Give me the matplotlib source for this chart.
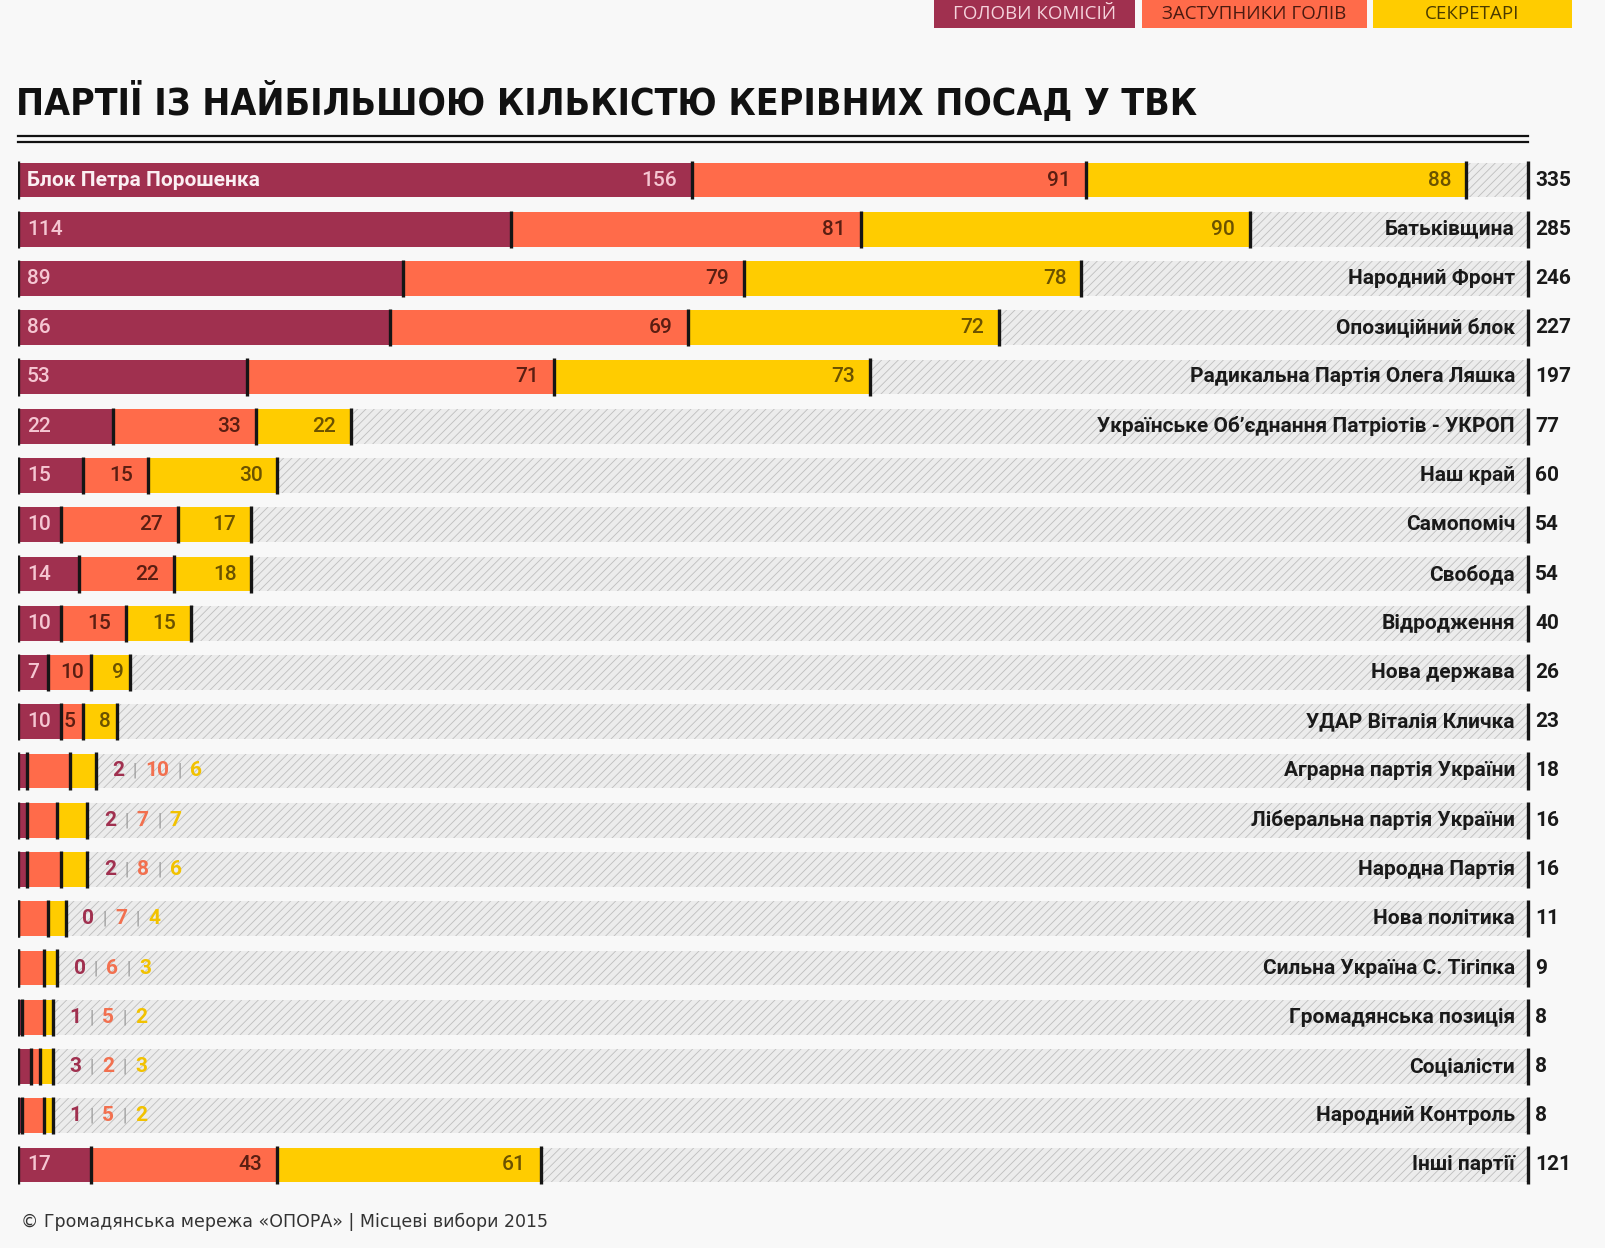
import matplotlib.pyplot as plt
from matplotlib import font_manager as fm
from matplotlib.patches import Rectangle
from matplotlib.lines import Line2D
from matplotlib.offsetbox import TextArea, HPacker, AnnotationBbox

# Data
parties = ['Блок Петра Порошенка', 'Батьківщина', 'Народний Фронт', 'Опозиційний блок',
           'Радикальна Партія Олега Ляшка', 'Українське Об\u2019єднання Патріотів - УКРОП',
           'Наш край', 'Самопоміч', 'Свобода', 'Відродження', 'Нова держава',
           'УДАР Віталія Кличка', 'Аграрна партія України', 'Ліберальна партія України',
           'Народна Партія', 'Нова політика', 'Сильна Україна С. Тігіпка',
           'Громадянська позиція', 'Соціалісти', 'Народний Контроль', 'Інші партії']
heads = [156, 114, 89, 86, 53, 22, 15, 10, 14, 10, 7, 10, 2, 2, 2, 0, 0, 1, 3, 1, 17]
deputies = [91, 81, 79, 69, 71, 33, 15, 27, 22, 15, 10, 5, 10, 7, 8, 7, 6, 5, 2, 5, 43]
secretaries = [88, 90, 78, 72, 73, 22, 30, 17, 18, 15, 9, 8, 6, 7, 6, 4, 3, 2, 3, 2, 61]
totals = [335, 285, 246, 227, 197, 77, 60, 54, 54, 40, 26, 23, 18, 16, 16, 11, 9, 8, 8, 8, 121]

legend_labels = ['ГОЛОВИ КОМІСІЙ', 'ЗАСТУПНИКИ ГОЛІВ', 'СЕКРЕТАРІ']
title = 'ПАРТІЇ ІЗ НАЙБІЛЬШОЮ КІЛЬКІСТЮ КЕРІВНИХ ПОСАД У ТВК'
footer = '© Громадянська мережа «ОПОРА» | Місцеві вибори 2015'

# Styles
BG = '#F8F8F8'
colors = ['#A0304F', '#FF6B4A', '#FFCC00']
inner_text = ['#F5C6D2', '#5A1E12', '#6B5200']
outer_text = ['#A0304F', '#F2704F', '#F2C200']
legend_text = ['#F5D3DC', '#4A1A10', '#4A3A00']
label_font = ['Roboto', 'DejaVu Sans']

W, H = 1606, 1248
fig = plt.figure(figsize=(W / 100, H / 100), dpi=100, facecolor=BG)
plt.rcParams['hatch.linewidth'] = 0.6

px = 4.323          # pixels per position
x0, x1 = 18, 1528   # plot area in pixels
top_px, row_px = 180, 49.25
n = len(parties)
xmax = (x1 - x0) / px

ax = fig.add_axes([x0 / W, 1 - (top_px + (n - 0.5) * row_px) / H,
                   (x1 - x0) / W, n * row_px / H])
ax.set_facecolor(BG)
ax.set_xlim(0, xmax)
ax.set_ylim(n - 0.5, -0.5)
ax.axis('off')

rows = list(range(n))
bh = 0.71

# hatched background band
ax.barh(rows, [xmax] * n, height=bh, color='#ECECEC', hatch='////',
        edgecolor='#BEBEBE', linewidth=0)

# stacked segments
left = [0] * n
bounds = [list(left)]
for vals, col in zip([heads, deputies, secretaries], colors):
    ax.barh(rows, vals, left=left, height=bh, color=col, linewidth=0)
    left = [l + v for l, v in zip(left, vals)]
    bounds.append(list(left))

# black separators
for b in bounds:
    ax.vlines(b, [r - 0.38 for r in rows], [r + 0.38 for r in rows],
              color='#151515', lw=2.4)
ax.vlines([xmax] * n, [r - 0.38 for r in rows], [r + 0.38 for r in rows],
          color='#151515', lw=2.4, clip_on=False)

fs = 15
for i in rows:
    segs = [heads[i], deputies[i], secretaries[i]]
    # totals and party names
    ax.text(xmax + 7 / px, i, str(totals[i]), ha='left', va='center', fontsize=fs,
            fontweight='bold', color='#1a1a1a', family=label_font, clip_on=False)
    if i == 0:
        ax.text(9 / px, i, parties[i], ha='left', va='center', fontsize=fs,
                fontweight='bold', color='#FBEFF2', family=label_font)
    else:
        ax.text(xmax - 13 / px, i, parties[i], ha='right', va='center', fontsize=fs,
                fontweight='bold', color='#1a1a1a', family=label_font)

    if totals[i] >= 20:
        for k in range(3):
            start, end = bounds[k][i], bounds[k + 1][i]
            width_px = segs[k] * px
            if k == 0 and i != 0:
                ax.text(start + 9 / px, i, str(segs[k]), ha='left', va='center',
                        fontsize=fs, color=inner_text[k], family=label_font,
                        fontweight='medium')
            else:
                pad = 15 if width_px > 60 else 7
                ax.text(end - pad / px, i, str(segs[k]), ha='right', va='center',
                        fontsize=fs, color=inner_text[k], family=label_font,
                        fontweight='medium')
    else:
        parts = []
        for k in range(3):
            if k:
                parts.append(TextArea('|', textprops=dict(color='#9A9A9A', fontsize=fs - 2,
                                                          family=label_font)))
            parts.append(TextArea(str(segs[k]), textprops=dict(color=outer_text[k], fontsize=fs,
                                                               fontweight='bold',
                                                               family=label_font)))
        pack = HPacker(children=parts, pad=0, sep=6, align='center')
        ab = AnnotationBbox(pack, (totals[i], i), xybox=(12, 0), xycoords='data',
                            boxcoords='offset points', box_alignment=(0, 0.5),
                            frameon=False, pad=0)
        ax.add_artist(ab)

# title: prefer a narrow bold face, otherwise Roboto; fit to the original width
narrow = [f for f in fm.fontManager.ttflist
          if ('Narrow' in f.name or 'Condensed' in f.name
              or f.stretch in ('condensed', 'semi-condensed', 'extra-condensed'))]
narrow.sort(key=lambda f: 0 if f.weight in ('bold', 700, 'heavy', 800, 'black', 900) else 1)
if narrow:
    title_fp = fm.FontProperties(fname=narrow[0].fname)
else:
    title_fp = fm.FontProperties(family=['Roboto', 'DejaVu Sans'], weight='black')
tt = fig.text(16 / W, 1 - 115 / H, title, ha='left', va='baseline',
              fontproperties=title_fp, color='#111111')
tt.set_fontsize(35)
fig.canvas.draw()
tw = tt.get_window_extent().width
tt.set_fontsize(35 * 1180 / tw)

for yy in (136, 142):
    fig.add_artist(Line2D([x0 / W, x1 / W], [1 - yy / H] * 2, color='#111111', lw=1.6))

# legend boxes on top
boxes = [(934, 1135), (1142, 1367), (1373, 1572)]
for (bx0, bx1), lab, col, tc in zip(boxes, legend_labels, colors, legend_text):
    fig.add_artist(Rectangle((bx0 / W, 1 - 28 / H), (bx1 - bx0) / W, 28 / H,
                             transform=fig.transFigure, color=col, lw=0))
    fig.text((bx0 + bx1) / 2 / W, 1 - 14 / H, lab, ha='center', va='center',
             fontsize=13.5, color=tc, family=['Open Sans', 'DejaVu Sans'])

# footer
fig.text(21 / W, 1 - 1222 / H, footer, ha='left', va='center', fontsize=12.5,
         color='#333333', family='DejaVu Sans')

fig.savefig('out.png', dpi=100, facecolor=BG)
